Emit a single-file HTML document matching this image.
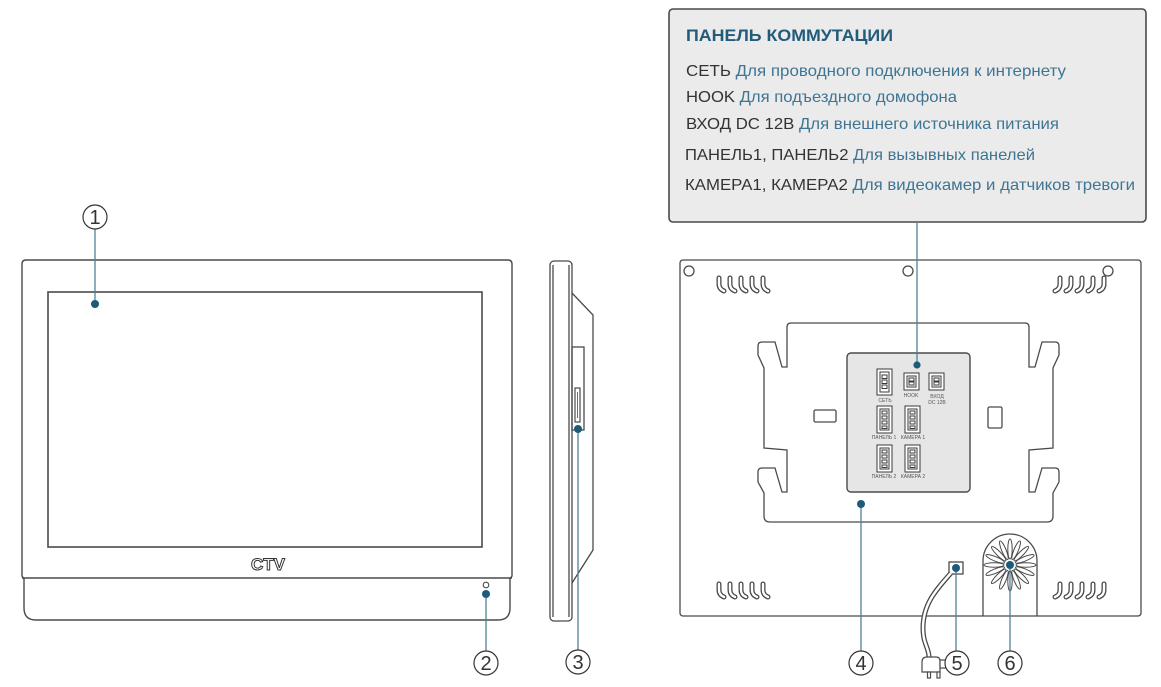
<!DOCTYPE html>
<html><head><meta charset="utf-8"><style>
html,body{margin:0;padding:0;background:#fff;}
svg{display:block;}
text{font-family:"Liberation Sans",sans-serif;}
</style></head><body>
<svg width="1161" height="687" viewBox="0 0 1161 687" xmlns="http://www.w3.org/2000/svg">
<!-- ============ INFO BOX ============ -->
<rect x="669" y="9" width="477" height="213" rx="4" fill="#ebebec" stroke="#4a4a4a" stroke-width="1.6"/>
<text x="686" y="41" font-size="16.5" font-weight="bold" fill="#235b7b" textLength="207" lengthAdjust="spacingAndGlyphs">ПАНЕЛЬ КОММУТАЦИИ</text>
<text x="686" y="76" font-size="16" fill="#333" textLength="380" lengthAdjust="spacingAndGlyphs">СЕТЬ <tspan fill="#3f7592">Для проводного подключения к интернету</tspan></text>
<text x="686" y="102" font-size="16" fill="#333" textLength="271" lengthAdjust="spacingAndGlyphs">HOOK <tspan fill="#3f7592">Для подъездного домофона</tspan></text>
<text x="686" y="129" font-size="16" fill="#333" textLength="373" lengthAdjust="spacingAndGlyphs">ВХОД DC 12В <tspan fill="#3f7592">Для внешнего источника питания</tspan></text>
<text x="685" y="160" font-size="16" fill="#333" textLength="350" lengthAdjust="spacingAndGlyphs">ПАНЕЛЬ1, ПАНЕЛЬ2 <tspan fill="#3f7592">Для вызывных панелей</tspan></text>
<text x="685" y="190" font-size="16" fill="#333" textLength="450" lengthAdjust="spacingAndGlyphs">КАМЕРА1, КАМЕРА2 <tspan fill="#3f7592">Для видеокамер и датчиков тревоги</tspan></text>

<!-- ============ FRONT VIEW ============ -->
<g fill="none" stroke="#4a4a4a" stroke-width="1.4">
  <path d="M26,260 H508 Q512,260 512,264 V576 L510,579 V608 Q510,620 498,620 H36 Q24,620 24,608 V579 L22,576 V264 Q22,260 26,260 Z" fill="#fff"/>
  <line x1="22" y1="578" x2="512" y2="578"/>
  <rect x="48" y="292" width="434" height="255" stroke-width="1.6"/>
  <circle cx="486" cy="585" r="2.8" stroke-width="1.1"/>
</g>
<text x="268" y="570" font-size="17" font-weight="bold" fill="#fff" stroke="#333" stroke-width="1" text-anchor="middle" textLength="34" lengthAdjust="spacingAndGlyphs">CTV</text>

<!-- ============ SIDE VIEW ============ -->
<g fill="none" stroke="#4a4a4a" stroke-width="1.3">
  <rect x="550" y="261" width="22" height="360" rx="4" fill="#fff"/>
  <line x1="553" y1="265" x2="553" y2="617"/>
  <line x1="569" y1="265" x2="569" y2="617"/>
  <path d="M572,293 L593,315 V550 L572,583"/>
  <rect x="572" y="347" width="12" height="83"/>
  <rect x="575" y="388" width="5" height="34" stroke-width="1.2"/>
  <line x1="577.5" y1="392" x2="577.5" y2="418" stroke-width="0.8"/>
</g>

<!-- ============ BACK VIEW ============ -->
<g fill="none" stroke="#4a4a4a" stroke-width="1.3">
  <rect x="680" y="260" width="461" height="356" rx="3" fill="#fff"/>
  <circle cx="689" cy="271" r="5"/>
  <circle cx="908" cy="271" r="5"/>
  <!-- bracket -->
  <path d="M791,323 H1025 Q1029,323 1029,327 V367 H1035 L1042,342 H1055 Q1059,342 1059,346 V355 L1053,368 V448 L1029,450 V492 H1035 L1042,468 H1055 Q1059,468 1059,472 V482 L1053,493 V516 Q1053,522 1047,522 H770 Q764,522 764,516 V493 L758,482 V472 Q758,468 762,468 H775 L782,492 H787 V450 L764,448 V368 L758,355 V346 Q758,342 762,342 H775 L782,367 H787 V327 Q787,323 791,323 Z"/>
  <rect x="814" y="410" width="22" height="12" rx="1.5"/>
  <rect x="988" y="407" width="14" height="21" rx="1.5"/>
  <!-- connector panel -->
  <rect x="847" y="353" width="123" height="139" rx="4" fill="#e6e6e7" stroke-width="1.4"/>
  <!-- speaker -->
  <path d="M983,616 V561 A27,27 0 0 1 1037,561 V616"/>
  <!-- power square -->
  <rect x="949" y="562" width="14" height="12"/>
</g>

<!-- vents -->
<g fill="none" stroke-linecap="round">
  <g stroke="#4a4a4a" stroke-width="5">
    <path d="M719,278 V284 Q719,289 724,291"/><path d="M730,278 V284 Q730,289 735,291"/><path d="M741,278 V284 Q741,289 746,291"/><path d="M752,278 V284 Q752,289 757,291"/><path d="M763,278 V284 Q763,289 768,291"/>
    <path d="M719,584 V590 Q719,595 724,597"/><path d="M730,584 V590 Q730,595 735,597"/><path d="M741,584 V590 Q741,595 746,597"/><path d="M752,584 V590 Q752,595 757,597"/><path d="M763,584 V590 Q763,595 768,597"/>
    <path d="M1060,278 V284 Q1060,289 1055,291"/><path d="M1071,278 V284 Q1071,289 1066,291"/><path d="M1082,278 V284 Q1082,289 1077,291"/><path d="M1093,278 V284 Q1093,289 1088,291"/><path d="M1104,278 V284 Q1104,289 1099,291"/>
    <path d="M1060,584 V590 Q1060,595 1055,597"/><path d="M1071,584 V590 Q1071,595 1066,597"/><path d="M1082,584 V590 Q1082,595 1077,597"/><path d="M1093,584 V590 Q1093,595 1088,597"/><path d="M1104,584 V590 Q1104,595 1099,597"/>
  </g>
  <g stroke="#fff" stroke-width="2.4">
    <path d="M719,278 V284 Q719,289 724,291"/><path d="M730,278 V284 Q730,289 735,291"/><path d="M741,278 V284 Q741,289 746,291"/><path d="M752,278 V284 Q752,289 757,291"/><path d="M763,278 V284 Q763,289 768,291"/>
    <path d="M719,584 V590 Q719,595 724,597"/><path d="M730,584 V590 Q730,595 735,597"/><path d="M741,584 V590 Q741,595 746,597"/><path d="M752,584 V590 Q752,595 757,597"/><path d="M763,584 V590 Q763,595 768,597"/>
    <path d="M1060,278 V284 Q1060,289 1055,291"/><path d="M1071,278 V284 Q1071,289 1066,291"/><path d="M1082,278 V284 Q1082,289 1077,291"/><path d="M1093,278 V284 Q1093,289 1088,291"/><path d="M1104,278 V284 Q1104,289 1099,291"/>
    <path d="M1060,584 V590 Q1060,595 1055,597"/><path d="M1071,584 V590 Q1071,595 1066,597"/><path d="M1082,584 V590 Q1082,595 1077,597"/><path d="M1093,584 V590 Q1093,595 1088,597"/><path d="M1104,584 V590 Q1104,595 1099,597"/>
  </g>
</g>
<circle cx="1108" cy="271" r="5" fill="none" stroke="#4a4a4a" stroke-width="1.3"/>

<!-- speaker petals -->
<g fill="none" stroke="#4a4a4a" stroke-width="1">
  <ellipse cx="1026" cy="565" rx="10" ry="2.2" transform="rotate(0 1010 565)"/>
  <ellipse cx="1026" cy="565" rx="10" ry="2.2" transform="rotate(22.5 1010 565)"/>
  <ellipse cx="1026" cy="565" rx="10" ry="2.2" transform="rotate(45 1010 565)"/>
  <ellipse cx="1026" cy="565" rx="10" ry="2.2" transform="rotate(67.5 1010 565)"/>
  <ellipse cx="1026" cy="565" rx="10" ry="2.2" transform="rotate(90 1010 565)"/>
  <ellipse cx="1026" cy="565" rx="10" ry="2.2" transform="rotate(112.5 1010 565)"/>
  <ellipse cx="1026" cy="565" rx="10" ry="2.2" transform="rotate(135 1010 565)"/>
  <ellipse cx="1026" cy="565" rx="10" ry="2.2" transform="rotate(157.5 1010 565)"/>
  <ellipse cx="1026" cy="565" rx="10" ry="2.2" transform="rotate(180 1010 565)"/>
  <ellipse cx="1026" cy="565" rx="10" ry="2.2" transform="rotate(202.5 1010 565)"/>
  <ellipse cx="1026" cy="565" rx="10" ry="2.2" transform="rotate(225 1010 565)"/>
  <ellipse cx="1026" cy="565" rx="10" ry="2.2" transform="rotate(247.5 1010 565)"/>
  <ellipse cx="1026" cy="565" rx="10" ry="2.2" transform="rotate(270 1010 565)"/>
  <ellipse cx="1026" cy="565" rx="10" ry="2.2" transform="rotate(292.5 1010 565)"/>
  <ellipse cx="1026" cy="565" rx="10" ry="2.2" transform="rotate(315 1010 565)"/>
  <ellipse cx="1026" cy="565" rx="10" ry="2.2" transform="rotate(337.5 1010 565)"/>
</g>

<!-- power cord -->
<g fill="none">
  <path d="M951,573 C936,590 923,604 923,628 C923,644 929,648 929,657" stroke="#4a4a4a" stroke-width="5"/>
  <path d="M951,573 C936,590 923,604 923,628 C923,644 929,648 929,657" stroke="#fff" stroke-width="2.4"/>
</g>
<g fill="#fff" stroke="#4a4a4a" stroke-width="1.2">
  <path d="M922,672 V662 Q922,657 927,657 H936 Q940,657 940,661 V672 Z"/>
  <rect x="940" y="660" width="6" height="8"/>
  <rect x="927.5" y="672" width="3" height="6"/>
  <rect x="937" y="672" width="3" height="6"/>
</g>

<!-- connectors -->
<g fill="#fff" stroke="#3a3a3a" stroke-width="1">
  <rect x="877" y="369" width="15" height="26"/><rect x="880" y="372" width="9" height="20" fill="none"/>
  <rect x="882" y="375" width="5" height="3.5"/><rect x="882" y="380" width="5" height="3.5"/><rect x="882" y="385" width="5" height="3.5"/>
  <rect x="904" y="373" width="15" height="17"/><rect x="907" y="376" width="9" height="11" fill="none"/>
  <rect x="909" y="378" width="5" height="3"/><rect x="909" y="382" width="5" height="3"/>
  <rect x="929" y="373" width="15" height="17"/><rect x="932" y="376" width="9" height="11" fill="none"/>
  <rect x="934" y="378" width="5" height="3"/><rect x="934" y="382" width="5" height="3"/>
  <rect x="877" y="406" width="15" height="27"/><rect x="880" y="409" width="9" height="21" fill="none"/>
  <rect x="882" y="411" width="5" height="3"/><rect x="882" y="416" width="5" height="3"/><rect x="882" y="421" width="5" height="3"/><rect x="882" y="426" width="5" height="2.5"/>
  <rect x="905" y="406" width="15" height="27"/><rect x="908" y="409" width="9" height="21" fill="none"/>
  <rect x="910" y="411" width="5" height="3"/><rect x="910" y="416" width="5" height="3"/><rect x="910" y="421" width="5" height="3"/><rect x="910" y="426" width="5" height="2.5"/>
  <rect x="877" y="445" width="15" height="27"/><rect x="880" y="448" width="9" height="21" fill="none"/>
  <rect x="882" y="450" width="5" height="3"/><rect x="882" y="455" width="5" height="3"/><rect x="882" y="460" width="5" height="3"/><rect x="882" y="465" width="5" height="2.5"/>
  <rect x="905" y="445" width="15" height="27"/><rect x="908" y="448" width="9" height="21" fill="none"/>
  <rect x="910" y="450" width="5" height="3"/><rect x="910" y="455" width="5" height="3"/><rect x="910" y="460" width="5" height="3"/><rect x="910" y="465" width="5" height="2.5"/>
</g>
<g font-size="5" fill="#555" text-anchor="middle">
  <text x="885" y="402">СЕТЬ</text>
  <text x="911" y="397">HOOK</text>
  <text x="937" y="398">ВХОД</text>
  <text x="937" y="404">DC 12В</text>
  <text x="884" y="439">ПАНЕЛЬ 1</text>
  <text x="913" y="439">КАМЕРА 1</text>
  <text x="884" y="478">ПАНЕЛЬ 2</text>
  <text x="913" y="478">КАМЕРА 2</text>
</g>

<!-- ============ CALLOUT LINES ============ -->
<g stroke="#4d8299" stroke-width="1.3" fill="none">
  <line x1="95" y1="229" x2="95" y2="304"/>
  <line x1="486" y1="594" x2="486" y2="651"/>
  <line x1="578" y1="429" x2="578" y2="650"/>
  <line x1="917" y1="222" x2="917" y2="365"/>
  <line x1="861" y1="504" x2="861" y2="651"/>
  <line x1="956" y1="568" x2="956" y2="651"/>
  <line x1="1010" y1="565" x2="1010" y2="651"/>
</g>
<g fill="#1c5c78">
  <circle cx="95" cy="304" r="4"/>
  <circle cx="486" cy="594" r="4"/>
  <circle cx="578" cy="429" r="4"/>
  <circle cx="917" cy="365" r="3.6"/>
  <circle cx="861" cy="504" r="4"/>
  <circle cx="956" cy="568" r="4"/>
  <circle cx="1010" cy="565" r="4"/>
</g>

<!-- numbered circles -->
<g fill="#fff" stroke="#333" stroke-width="1.2">
  <circle cx="95" cy="217" r="12"/>
  <circle cx="486" cy="663" r="12"/>
  <circle cx="578" cy="662" r="12"/>
  <circle cx="861" cy="663" r="12"/>
  <circle cx="957" cy="663" r="12"/>
  <circle cx="1010" cy="663" r="12"/>
</g>
<g font-size="20" fill="#333" text-anchor="middle" font-weight="300">
  <text x="95" y="224">1</text>
  <text x="486" y="670">2</text>
  <text x="578" y="669">3</text>
  <text x="861" y="670">4</text>
  <text x="957" y="670">5</text>
  <text x="1010" y="670">6</text>
</g>
</svg>
</body></html>
